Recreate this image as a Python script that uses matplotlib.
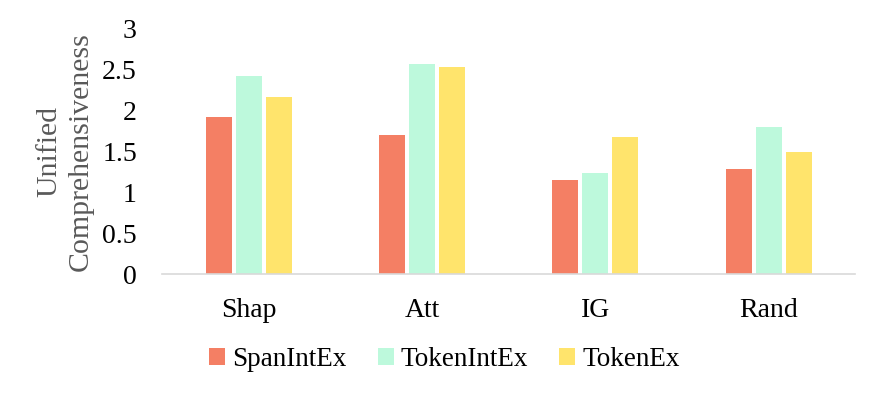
import matplotlib.pyplot as plt
import numpy as np

methods = ['Shap', 'Att', 'IG', 'Rand']
span_intex = [1.91, 1.70, 1.15, 1.28]
token_intex = [2.41, 2.56, 1.23, 1.79]
token_ex = [2.16, 2.52, 1.67, 1.49]

plt.rcParams['font.family'] = ['Liberation Serif', 'DejaVu Serif']

fig = plt.figure(figsize=(8.8, 3.96), dpi=100)
ax = fig.add_axes([0.184, 0.308, 0.788, 0.621])

x = np.arange(len(methods))
w = 0.15
off = 0.173
ax.bar(x - off, span_intex, w, color='#F47F64', label='SpanIntEx')
ax.bar(x, token_intex, w, color='#BDF9DC', label='TokenIntEx')
ax.bar(x + off, token_ex, w, color='#FFE46C', label='TokenEx')

ax.set_xlim(-0.5, 3.5)
ax.set_ylim(0, 3)
ax.set_yticks([0, 0.5, 1, 1.5, 2, 2.5, 3])
ax.set_yticklabels(['0', '0.5', '1', '1.5', '2', '2.5', '3'])
ax.set_xticks(x)
ax.set_xticklabels(methods)
ax.tick_params(length=0, labelsize=20)
ax.tick_params(axis='x', pad=17)
ax.tick_params(axis='y', pad=18)
for s in ['top', 'right', 'left']:
    ax.spines[s].set_visible(False)
ax.spines['bottom'].set_color('#d9d9d9')
ax.spines['bottom'].set_linewidth(1.2)

ax.set_ylabel('Unified\nComprehensiveness', fontsize=21.5, color='#595959', linespacing=1.25, labelpad=6)

fig.legend(loc='center', bbox_to_anchor=(0.505, 0.092), ncol=3, frameon=False,
           fontsize=19.5, handlelength=0.6, handleheight=0.6, handletextpad=0.25, columnspacing=1.15)

plt.savefig('out.png', dpi=100)
